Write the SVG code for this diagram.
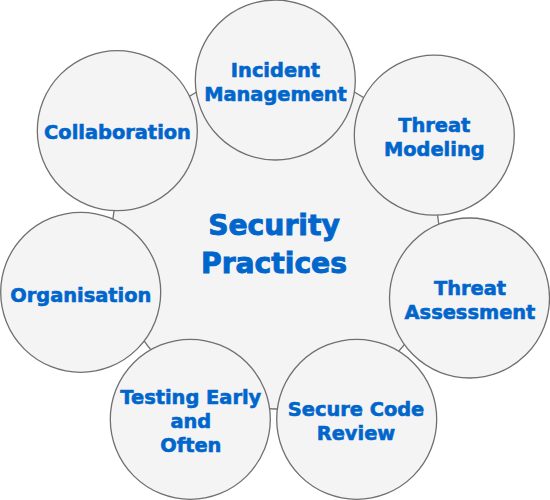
<svg xmlns="http://www.w3.org/2000/svg" width="550" height="500" viewBox="0 0 550 500">
<style>
.c{fill:#f4f4f4;stroke:#707070;stroke-width:1.3}
.t{font-family:"DejaVu Sans",Verdana,sans-serif;font-weight:bold;font-size:19.4px;fill:#0066cc;stroke:#0066cc;stroke-width:0.6;text-anchor:middle}
.big{font-size:28.2px;stroke-width:0.9}
</style>
<rect width="550" height="500" fill="#fff"/>
<g id="center">
<ellipse class="c" cx="275.5" cy="240" rx="164" ry="169"/>
<text class="t big" x="274" y="235">Security</text>
<text class="t big" x="274" y="272.5">Practices</text>
</g>
<g id="connectors"></g>
<g id="incident">
<circle class="c" cx="275.3" cy="80" r="80"/>
<text class="t" x="275.5" y="77">Incident</text>
<text class="t" x="275.5" y="101">Management</text>
</g>
<g id="modeling">
<circle class="c" cx="434.3" cy="135.2" r="80"/>
<text class="t" x="434.3" y="131.7">Threat</text>
<text class="t" x="434.3" y="155.7">Modeling</text>
</g>
<g id="assessment">
<circle class="c" cx="469.5" cy="298" r="80"/>
<text class="t" x="470" y="295">Threat</text>
<text class="t" x="470" y="319">Assessment</text>
</g>
<g id="codereview">
<circle class="c" cx="356.7" cy="419.3" r="80"/>
<text class="t" x="356" y="416">Secure Code</text>
<text class="t" x="356" y="440">Review</text>
</g>
<g id="testing">
<circle class="c" cx="190.3" cy="419.3" r="80"/>
<text class="t" x="190.8" y="404">Testing Early</text>
<text class="t" x="190.8" y="427.7">and</text>
<text class="t" x="190.8" y="451.7">Often</text>
</g>
<g id="organisation">
<circle class="c" cx="80.7" cy="292.3" r="80"/>
<text class="t" x="80.8" y="301.7">Organisation</text>
</g>
<g id="collaboration">
<circle class="c" cx="117.3" cy="130.7" r="80"/>
<text class="t" x="117.5" y="139.3">Collaboration</text>
</g>
</svg>
